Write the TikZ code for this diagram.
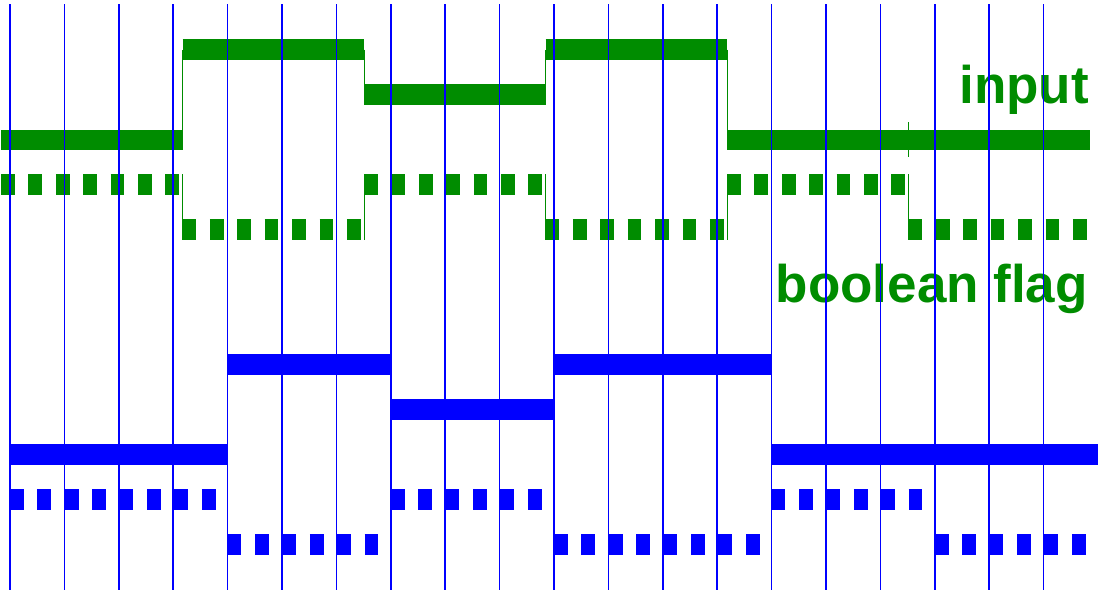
\documentclass[tikz,border=0pt]{standalone}
\usepackage{fontspec}
\setmainfont{Liberation Sans}
\usetikzlibrary{positioning}
\definecolor{sig}{RGB}{0,140,0}

\begin{document}
\begin{tikzpicture}[x=1pt,y=-1pt,
      bar/.style={line width=20.5pt},
      flagbar/.style={line width=20.5pt,dash pattern=on 13.7pt off 13.7pt},
      edgeline/.style={sig,line width=1pt},
      gridline/.style={blue,line width=1.7pt},
      lbl/.style={text=sig,inner sep=0pt,anchor=base east,
        font=\fontsize{53}{60}\selectfont\bfseries}]
    \useasboundingbox (0,0) rectangle (1098,590);
    % green input and its flag
    \foreach \a/\b/\y in {1/182.5/140,182.5/364/49.5,364/545.5/94.5,
        545.5/727/49.5,727/908.5/140,908.5/1090/140}
      \draw[bar,sig] (\a,\y) -- (\b,\y);
    \foreach \x/\ya/\yb in {182.5/140/49.5,364/49.5/94.5,545.5/94.5/49.5,
        727/49.5/140,908.5/122/157}
      \draw[edgeline] (\x,\ya) -- (\x,\yb);
    \foreach \a/\b/\y in {1/182.5/184.5,182.5/364/229.5,364/545.5/184.5,
        545.5/727/229.5,727/908.5/184.5,908.5/1090/229.5}
      \draw[flagbar,sig] (\a,\y) -- (\b,\y);
    \foreach \x in {182.5,364,545.5,727,908.5}
      \draw[edgeline] (\x,174) -- (\x,239.5);
    \node[lbl] (input) at (1089,103.3) {input};
    \node[lbl] (flag) at (1088,302) {boolean flag};
    % blue signal and its flag, on the grid
    \foreach \a/\b/\y in {0/4/454.5,4/7/364.5,7/10/409.5,10/14/364.5,14/20/454.5}
      \draw[bar,blue] ({10+54.4*\a},\y) -- ({10+54.4*\b},\y);
    \foreach \a/\b/\y in {0/4/499.5,4/7/544.5,7/10/499.5,10/14/544.5,
        14/17/499.5,17/20/544.5}
      \draw[flagbar,blue] ({10+54.4*\a},\y) -- ({10+54.4*\b},\y);
    \foreach \k in {0,...,19}
      \draw[gridline] ({10+54.4*\k},4) -- ({10+54.4*\k},590);
  \end{tikzpicture}
\end{document}
